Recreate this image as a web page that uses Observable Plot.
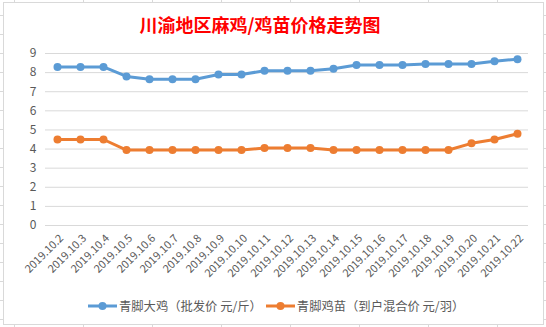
<!DOCTYPE html>
<html>
<head>
<meta charset="utf-8">
<script src="https://cdn.jsdelivr.net/npm/d3@7"></script>
<script src="https://cdn.jsdelivr.net/npm/@observablehq/plot@0.6"></script>
<style>
  html, body { margin: 0; padding: 0; }
  body {
    width: 546px; height: 327px; position: relative; overflow: hidden;
    background-color: #fff;
    background-image:
      repeating-linear-gradient(to right, transparent 0, transparent 14px, #d9d9d9 14px, #d9d9d9 15px, transparent 15px, transparent 69px),
      repeating-linear-gradient(to bottom, transparent 0, transparent 15px, #d9d9d9 15px, #d9d9d9 16px, transparent 16px, transparent 19px);
    font-family: "Noto Sans CJK SC", "Noto Sans", sans-serif;
  }
  #frame {
    position: absolute; left: 3px; top: 2px; width: 539px; height: 321px;
    border: 1px solid #d9d9d9; background: #fff;
  }
  #title {
    position: absolute; left: 0; top: 11px; width: 520px; text-align: center;
    font-size: 18px; font-weight: bold; color: #ff0000; line-height: 26px;
  }
  #chart { position: absolute; left: 0; top: 40px; }
  #legend {
    position: absolute; left: 88px; top: 297px; display: flex; align-items: center;
    font-size: 12.3px; color: #595959; line-height: 18px;
  }
  .item { display: flex; align-items: center; }
  .item svg { display: block; margin-right: 2px; }
</style>
</head>
<body>
<div id="frame"></div>
<div id="title">川渝地区麻鸡/鸡苗价格走势图</div>
<div id="chart"></div>
<div id="legend"></div>
<script>
const categories = ["2019.10.2","2019.10.3","2019.10.4","2019.10.5","2019.10.6","2019.10.7","2019.10.8","2019.10.9","2019.10.10","2019.10.11","2019.10.12","2019.10.13","2019.10.14","2019.10.15","2019.10.16","2019.10.17","2019.10.18","2019.10.19","2019.10.20","2019.10.21","2019.10.22"];
const bigChicken = [8.3,8.3,8.3,7.8,7.65,7.65,7.65,7.9,7.9,8.1,8.1,8.1,8.2,8.4,8.4,8.4,8.45,8.45,8.45,8.6,8.7];
const chickSeedling = [4.5,4.5,4.5,3.95,3.95,3.95,3.95,3.95,3.95,4.05,4.05,4.05,3.95,3.95,3.95,3.95,3.95,3.95,4.3,4.5,4.8];
const seriesNames = ["青脚大鸡（批发价 元/斤）","青脚鸡苗（到户混合价 元/羽）"];
const seriesColors = ["#5B9BD5","#ED7D31"];
const yTicks = [0,1,2,3,4,5,6,7,8,9];

const data = [];
categories.forEach((c,i)=>{
  data.push({date:c, v:bigChicken[i], s:seriesNames[0]});
  data.push({date:c, v:chickSeedling[i], s:seriesNames[1]});
});

const chart = Plot.plot({
  width: 546, height: 245,
  marginLeft: 45, marginRight: 18, marginTop: 13, marginBottom: 60,
  style: {fontFamily: '"Noto Sans CJK SC", "Noto Sans", sans-serif', background: "transparent"},
  x: {type: "point", domain: categories, padding: 0.5},
  y: {domain: [0,9]},
  color: {domain: seriesNames, range: seriesColors},
  marks: [
    Plot.gridY(yTicks, {stroke: "#d9d9d9", strokeOpacity: 1, strokeWidth: 1}),
    Plot.axisY(yTicks, {tickSize: 0, tickPadding: 9, fontSize: 12, color: "#595959", label: null}),
    Plot.axisX({tickRotate: -45, tickSize: 0, tickPadding: 6, dx: 4, dy: 5, fontSize: 11, color: "#595959", label: null}),
    Plot.lineY(data, {x: "date", y: "v", z: "s", stroke: "s", strokeWidth: 3}),
    Plot.dot(data, {x: "date", y: "v", fill: "s", r: 4})
  ]
});
document.getElementById("chart").appendChild(chart);

const legend = d3.select("#legend");
seriesNames.forEach((n,i)=>{
  const it = legend.append("div").attr("class","item").style("margin-right", i===0 ? "4px" : "0");
  const sv = it.append("svg").attr("width",29).attr("height",10);
  sv.append("line").attr("x1",0).attr("x2",29).attr("y1",5).attr("y2",5).attr("stroke",seriesColors[i]).attr("stroke-width",3);
  sv.append("circle").attr("cx",14.5).attr("cy",5).attr("r",4).attr("fill",seriesColors[i]);
  it.append("span").text(n);
});
</script>
</body>
</html>
